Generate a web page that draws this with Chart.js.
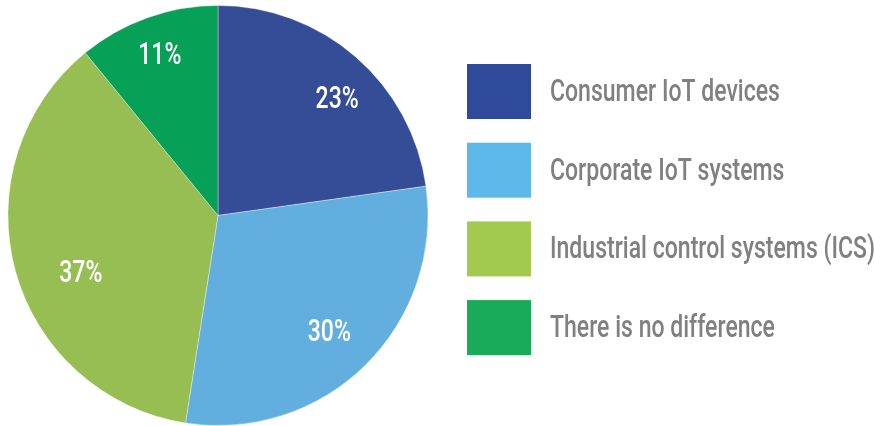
<!DOCTYPE html>
<html lang="en">

<head>
    <meta charset="UTF-8">
    <title>IoT Security Survey</title>
    <script src="https://cdn.jsdelivr.net/npm/chart.js"></script>
    <style>
        html, body {
            margin: 0;
            padding: 0;
            background: #fff;
        }

        .chart-container {
            width: 874px;
            height: 426px;
        }
    </style>
</head>

<body>
    <div class="chart-container">
        <canvas id="iotChart"></canvas>
    </div>

    <script>
        const categories = ['Consumer IoT devices', 'Corporate IoT systems', 'Industrial control systems (ICS)', 'There is no difference'];
        const shares = [23, 30, 37, 11];
        const sliceColors = ['#344d96', '#62aedf', '#96be52', '#07a057'];
        const legendColors = ['#2f4a9b', '#5db9e9', '#a1ca4f', '#19ab58'];

        // where each percentage sits: share of the slice's sweep, share of the radius
        const labelSpots = [[0.56, 0.79], [0.51, 0.77], [0.44, 0.71], [0.49, 0.81]];

        const FONT = '500 32px Roboto, "Liberation Sans", sans-serif';
        const SQUEEZE = 0.72; // narrow the glyphs to get a condensed look

        function narrowText(ctx, text, x, y, align) {
            ctx.save();
            ctx.translate(x, y);
            ctx.scale(SQUEEZE, 1);
            ctx.textAlign = align;
            ctx.fillText(text, 0, 0);
            ctx.restore();
        }

        // white percentage labels inside each slice
        const sliceLabels = {
            id: 'sliceLabels',
            afterDatasetsDraw(chart) {
                const ctx = chart.ctx;
                const meta = chart.getDatasetMeta(0);
                ctx.save();
                ctx.fillStyle = '#ffffff';
                ctx.font = FONT;
                ctx.textBaseline = 'middle';
                meta.data.forEach((arc, i) => {
                    const p = arc.getProps(['x', 'y', 'startAngle', 'endAngle', 'outerRadius'], true);
                    const [t, f] = labelSpots[i];
                    const a = p.startAngle + (p.endAngle - p.startAngle) * t;
                    const r = p.outerRadius * f;
                    narrowText(ctx, shares[i] + '%', p.x + Math.cos(a) * r, p.y + Math.sin(a) * r, 'center');
                });
                ctx.restore();
            }
        };

        // square swatches with grey captions on the right
        const sideLegend = {
            id: 'sideLegend',
            afterDraw(chart) {
                const ctx = chart.ctx;
                ctx.save();
                ctx.font = FONT;
                ctx.textBaseline = 'middle';
                categories.forEach((name, i) => {
                    const top = 64 + i * 78.7;
                    ctx.fillStyle = legendColors[i];
                    ctx.fillRect(467, top, 64, 55);
                    ctx.fillStyle = '#808080';
                    narrowText(ctx, name, 550, top + 29, 'left');
                });
                ctx.restore();
            }
        };

        new Chart(document.getElementById('iotChart'), {
            type: 'pie',
            data: {
                labels: categories,
                datasets: [{
                    data: shares,
                    backgroundColor: sliceColors,
                    borderColor: 'rgba(255,255,255,0.35)',
                    borderWidth: 1
                }]
            },
            options: {
                responsive: true,
                maintainAspectRatio: false,
                animation: false,
                layout: { padding: { left: 7, right: 445, top: 5, bottom: 0 } },
                plugins: {
                    legend: { display: false },
                    tooltip: { enabled: false }
                }
            },
            plugins: [sliceLabels, sideLegend]
        });
    </script>
</body>

</html>
